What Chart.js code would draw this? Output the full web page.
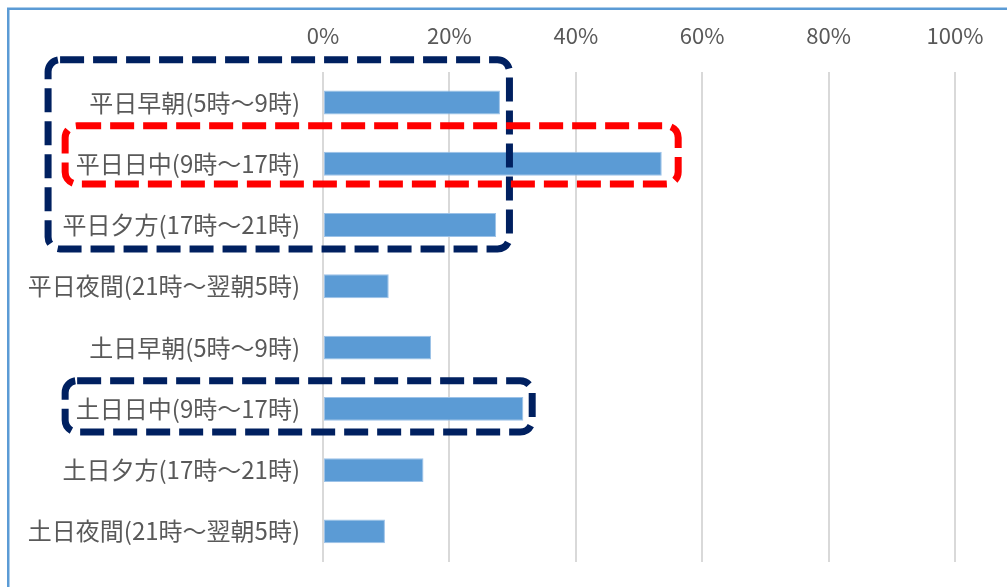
<!DOCTYPE html>
<html lang="ja">
<head>
<meta charset="utf-8">
<script src="https://cdn.jsdelivr.net/npm/chart.js@4/dist/chart.umd.min.js"></script>
<style>
  html, body { margin: 0; padding: 0; background: #fff; }
  #wrap { width: 1007px; height: 587px; position: relative; }
</style>
</head>
<body>
<div id="wrap"><canvas id="timeChart"></canvas></div>
<script>
// 時間帯ごとの割合
const categories = [
    '平日早朝(5時～9時)',
    '平日日中(9時～17時)',
    '平日夕方(17時～21時)',
    '平日夜間(21時～翌朝5時)',
    '土日早朝(5時～9時)',
    '土日日中(9時～17時)',
    '土日夕方(17時～21時)',
    '土日夜間(21時～翌朝5時)'
];
const shares = [28.0, 53.6, 27.4, 10.4, 17.1, 31.7, 15.9, 9.8];
const xTicks = [0, 20, 40, 60, 80, 100];

// 強調枠（x は % 値、y はカテゴリ番号）
const highlights = [
    { x0: -43.5, x1: 29.5, y0: -0.70, y1: 2.39, color: '#002060' },
    { x0: -40.8, x1: 33.1, y0: 4.54, y1: 5.38, color: '#002060' },
    { x0: -40.8, x1: 56.2, y0: 0.38, y1: 1.33, color: '#ff0000' }
];

const highlightBoxes = {
    id: 'highlightBoxes',
    afterDatasetsDraw(chart) {
        const ctx = chart.ctx;
        const xs = chart.scales.x, ys = chart.scales.y;
        ctx.save();
        ctx.lineWidth = 7;
        ctx.setLineDash([24, 9]);
        highlights.forEach(function (h) {
            const left = xs.getPixelForValue(h.x0);
            const right = xs.getPixelForValue(h.x1);
            const top = ys.getPixelForValue(h.y0);
            const bottom = ys.getPixelForValue(h.y1);
            ctx.strokeStyle = h.color;
            ctx.beginPath();
            ctx.roundRect(left, top, right - left, bottom - top, 12);
            ctx.stroke();
        });
        ctx.restore();
    }
};

const frame = {
    id: 'frame',
    beforeDraw(chart) {
        const ctx = chart.ctx;
        ctx.save();
        ctx.fillStyle = '#ffffff';
        ctx.fillRect(0, 0, chart.width, chart.height);
        ctx.strokeStyle = '#5b9bd5';
        ctx.lineWidth = 2.5;
        ctx.beginPath();
        ctx.moveTo(8.25, chart.height);
        ctx.lineTo(8.25, 8.75);
        ctx.lineTo(chart.width, 8.75);
        ctx.stroke();
        ctx.restore();
    }
};

new Chart(document.getElementById('timeChart').getContext('2d'), {
    type: 'bar',
    data: {
        labels: categories,
        datasets: [{
            data: shares,
            backgroundColor: '#5b9bd5',
            borderColor: '#9cc2e8',
            borderWidth: 1,
            borderSkipped: false,
            barPercentage: 0.39,
            categoryPercentage: 1
        }]
    },
    options: {
        indexAxis: 'y',
        responsive: true,
        maintainAspectRatio: false,
        animation: false,
        layout: { padding: { top: -1.5, right: 52, bottom: 25, left: 0 } },
        plugins: {
            legend: { display: false },
            tooltip: { enabled: false }
        },
        scales: {
            x: {
                position: 'top',
                min: 0,
                max: 100,
                afterBuildTicks: function (scale) {
                    scale.ticks = xTicks.map(function (v) { return { value: v }; });
                },
                grid: { color: '#d9d9d9', lineWidth: 2, drawTicks: false },
                border: { display: false },
                ticks: {
                    padding: 23.5,
                    color: '#595959',
                    font: { family: '"Noto Sans CJK JP", "Noto Sans", sans-serif', size: 22 },
                    callback: function (v) { return v + '%'; }
                }
            },
            y: {
                afterFit: function (scale) {
                    // 軸幅を固定し、ラベル分の上下余白は取らない
                    scale.width = 323;
                    scale.paddingTop = 0;
                    scale.paddingBottom = 0;
                },
                grid: { display: false, drawTicks: false },
                border: { display: false },
                ticks: {
                    padding: 23,
                    color: '#595959',
                    font: { family: '"Noto Sans CJK JP", sans-serif', size: 24 }
                }
            }
        }
    },
    plugins: [frame, highlightBoxes]
});
</script>
</body>
</html>
